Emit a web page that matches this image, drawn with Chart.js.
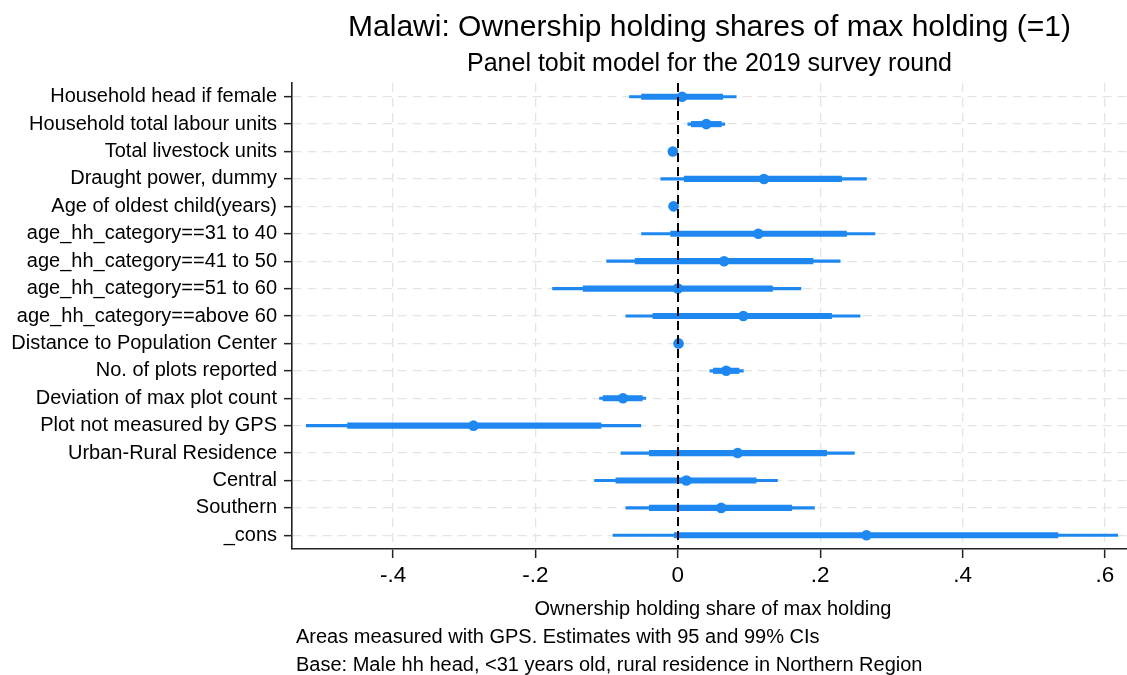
<!DOCTYPE html>
<html>
<head>
<meta charset="utf-8">
<script src="https://cdn.jsdelivr.net/npm/chart.js@4"></script>
<style>
html,body{margin:0;padding:0;background:#fff;}
#wrap{width:1127px;height:675px;}
</style>
</head>
<body>
<div id="wrap"><canvas id="c" width="1127" height="675"></canvas></div>
<script>
const categories = [
  "Household head if female",
  "Household total labour units",
  "Total livestock units",
  "Draught power, dummy",
  "Age of oldest child(years)",
  "age_hh_category==31 to 40",
  "age_hh_category==41 to 50",
  "age_hh_category==51 to 60",
  "age_hh_category==above 60",
  "Distance to Population Center",
  "No. of plots reported",
  "Deviation of max plot count",
  "Plot not measured by GPS",
  "Urban-Rural Residence",
  "Central",
  "Southern",
  "_cons"
];
const estimates = [0.006, 0.040, -0.007, 0.121, -0.006, 0.113, 0.065, 0.000, 0.092, 0.001, 0.068, -0.077, -0.287, 0.084, 0.012, 0.061, 0.265];
const ci95Low  = [-0.051, 0.019, -0.010, 0.009, -0.008, -0.010, -0.060, -0.133, -0.035, 0.000, 0.050, -0.105, -0.464, -0.040, -0.087, -0.040, -0.005];
const ci95High = [0.063, 0.061, -0.004, 0.230, -0.004, 0.237, 0.190, 0.133, 0.216, 0.002, 0.086, -0.050, -0.108, 0.209, 0.110, 0.160, 0.534];
const ci99Low  = [-0.068, 0.014, -0.011, -0.024, -0.009, -0.051, -0.100, -0.176, -0.073, -0.001, 0.045, -0.110, -0.522, -0.080, -0.117, -0.073, -0.091];
const ci99High = [0.082, 0.066, -0.003, 0.265, -0.003, 0.277, 0.228, 0.173, 0.256, 0.003, 0.092, -0.045, -0.052, 0.248, 0.140, 0.192, 0.618];
const xTickValues = [-0.4, -0.2, 0, 0.2, 0.4, 0.6];
const xTickLabels = ["-.4", "-.2", "0", ".2", ".4", ".6"];
const titleText = "Malawi: Ownership holding shares of max holding (=1)";
const subtitleText = "Panel tobit model for the 2019 survey round";
const xTitleText = "Ownership holding share of max holding";
const noteLines = [
  "Areas measured with GPS. Estimates with 95 and 99% CIs",
  "Base: Male hh head, <31 years old, rural residence in Northern Region"
];

const BLUE = "#1e88f0";
const FONT = "'Liberation Sans', Arial, Helvetica, sans-serif";

const ci99 = ci99Low.map((v, i) => [v, ci99High[i]]);
const ci95 = ci95Low.map((v, i) => [v, ci95High[i]]);

const extraText = {
  id: "extraText",
  afterDatasetsDraw(chart) {
    const ctx = chart.ctx;
    const xs = chart.scales.x;
    const a = chart.chartArea;
    const x0 = Math.round(xs.getPixelForValue(0));
    ctx.save();
    ctx.strokeStyle = "#000";
    ctx.lineWidth = 2;
    ctx.setLineDash([9, 5]);
    ctx.beginPath();
    ctx.moveTo(x0, a.top);
    ctx.lineTo(x0, a.bottom);
    ctx.stroke();
    ctx.restore();
  },
  afterDraw(chart) {
    const ctx = chart.ctx;
    const a = chart.chartArea;
    ctx.save();
    ctx.fillStyle = "#000";
    ctx.textBaseline = "alphabetic";
    ctx.font = "20px " + FONT;
    ctx.textAlign = "center";
    ctx.fillText(xTitleText, 713, 615);
    ctx.textAlign = "left";
    ctx.font = "20px " + FONT;
    ctx.fillText(noteLines[0], a.left + 4, 643);
    ctx.fillText(noteLines[1], a.left + 4, 671);
    ctx.restore();
  }
};

new Chart(document.getElementById("c"), {
  type: "bar",
  data: {
    labels: categories,
    datasets: [
      {
        label: "Estimate",
        type: "line",
        indexAxis: "y",
        data: estimates,
        showLine: false,
        pointRadius: 5.3,
        pointHoverRadius: 5.3,
        pointBackgroundColor: BLUE,
        pointBorderColor: BLUE,
        pointBorderWidth: 0,
        order: 0
      },
      {
        label: "95% CI",
        data: ci95,
        backgroundColor: BLUE,
        barThickness: 5.5,
        grouped: false,
        borderSkipped: false,
        order: 1
      },
      {
        label: "99% CI",
        data: ci99,
        backgroundColor: BLUE,
        barThickness: 2.5,
        grouped: false,
        borderSkipped: false,
        order: 2
      }
    ]
  },
  options: {
    indexAxis: "y",
    responsive: false,
    devicePixelRatio: 1,
    animation: false,
    layout: { autoPadding: false, padding: { top: 0, left: 0, right: 0, bottom: 0 } },
    plugins: {
      legend: { display: false },
      tooltip: { enabled: false },
      title: {
        display: true,
        text: titleText,
        fullSize: false,
        color: "#000",
        font: { family: FONT, size: 30, weight: "normal", lineHeight: 1.0 },
        padding: { top: 13, bottom: 4 }
      },
      subtitle: {
        display: true,
        text: subtitleText,
        fullSize: false,
        color: "#000",
        font: { family: FONT, size: 25, weight: "normal", lineHeight: 1.0 },
        padding: { top: 5, bottom: 6 }
      }
    },
    scales: {
      x: {
        type: "linear",
        min: -0.542,
        max: 0.631,
        afterBuildTicks(scale) {
          scale.ticks = xTickValues.map(v => ({ value: v }));
        },
        afterFit(scale) {
          scale.height = 126;
          scale.paddingRight = 0;
          scale.paddingLeft = 0;
        },
        ticks: {
          color: "#000",
          font: { family: FONT, size: 22.5 },
          padding: 4,
          maxRotation: 0,
          callback(value) {
            const i = xTickValues.findIndex(v => Math.abs(v - value) < 1e-9);
            return i >= 0 ? xTickLabels[i] : "";
          }
        },
        grid: {
          color: "#e4e4e4",
          lineWidth: 1.3,
          tickColor: "#222",
          tickLength: 9,
          tickWidth: 1.5,
          tickBorderDash: [],
          drawTicks: true
        },
        border: { display: true, color: "#222", width: 1.6, dash: [9, 6] }
      },
      y: {
        type: "category",
        offset: true,
        afterFit(scale) {
          scale.width = 292;
          scale.paddingTop = 0;
          scale.paddingBottom = 0;
        },
        ticks: {
          color: "#000",
          font: { family: FONT, size: 20 },
          padding: 7,
          autoSkip: false
        },
        grid: {
          offset: false,
          color: "#e4e4e4",
          lineWidth: 1.3,
          tickColor: "#222",
          tickLength: 8,
          tickWidth: 1.5,
          tickBorderDash: [],
          drawTicks: true
        },
        border: { display: true, color: "#222", width: 1.6, dash: [9, 6] }
      }
    }
  },
  plugins: [extraText]
});
</script>
</body>
</html>
